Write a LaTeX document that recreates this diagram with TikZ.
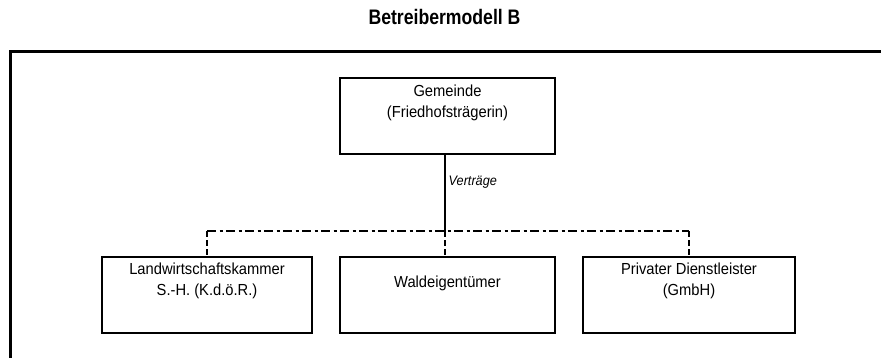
\documentclass[tikz,border=0pt]{standalone}
\usepackage{fontspec}
\setmainfont{Liberation Sans}
% horizontally narrowed text block
\newcommand{\narrowtext}[2]{\scalebox{#1}[1]{\begin{tabular}{@{}c@{}}#2\end{tabular}}}
\begin{document}
\begin{tikzpicture}[x=1pt,y=-1pt,
  box/.style={draw, line width=2pt, minimum height=76pt, inner sep=0pt},
  boxtext/.style={font=\fontsize{16}{21}\selectfont, inner sep=0pt},
  link/.style={line width=1.8pt},
  dashdot/.style={line width=1.8pt, dash pattern=on 9pt off 3.5pt on 3pt off 3.5pt},
  drop/.style={line width=1.8pt, dash pattern=on 6pt off 3pt}]
\useasboundingbox (0,0) rectangle (881,357);
\clip (0,0) rectangle (881,357);

% title
\node[font=\fontsize{21}{24}\selectfont\bfseries, inner sep=0pt] (title) at (444.5,20) {\narrowtext{0.84}{Betreibermodell B}};

% outer frame, running past the right and bottom edges
\draw[line width=3pt] (900,51) -- (10.5,51) -- (10.5,380);

% boxes
\node[box, minimum width=215pt] (gem) at (447.5,115.5) {};
\node[box, minimum width=210pt] (land) at (207,295) {};
\node[box, minimum width=215pt] (wald) at (447.5,295) {};
\node[box, minimum width=212pt] (priv) at (689,295) {};

% box texts
\node[boxtext] (gemt) at (447.5,103) {\narrowtext{0.92}{Gemeinde\\(Friedhofsträgerin)}};
\node[boxtext] (landt) at (207,281) {\narrowtext{0.92}{Landwirtschaftskammer\\S.-H. (K.d.ö.R.)}};
\node[boxtext] (waldt) at (447.5,283) {\narrowtext{0.92}{Waldeigentümer}};
\node[boxtext] (privt) at (689,281) {\narrowtext{0.92}{Privater Dienstleister\\(GmbH)}};

% connectors
\coordinate (bar) at (445,231);
\draw[link] (gem.south -| bar) -- (bar);
\node[anchor=west, font=\fontsize{13.8}{16}\selectfont\itshape, inner sep=0pt] (vert) at (448.5,182) {\narrowtext{0.92}{Verträge}};
\draw[dashdot] (land.north |- bar) -- (priv.north |- bar);
\draw[drop] (land.north |- bar) -- (land.north);
\draw[drop] (bar) -- (wald.north -| bar);
\draw[drop] (priv.north |- bar) -- (priv.north);
\end{tikzpicture}
\end{document}
